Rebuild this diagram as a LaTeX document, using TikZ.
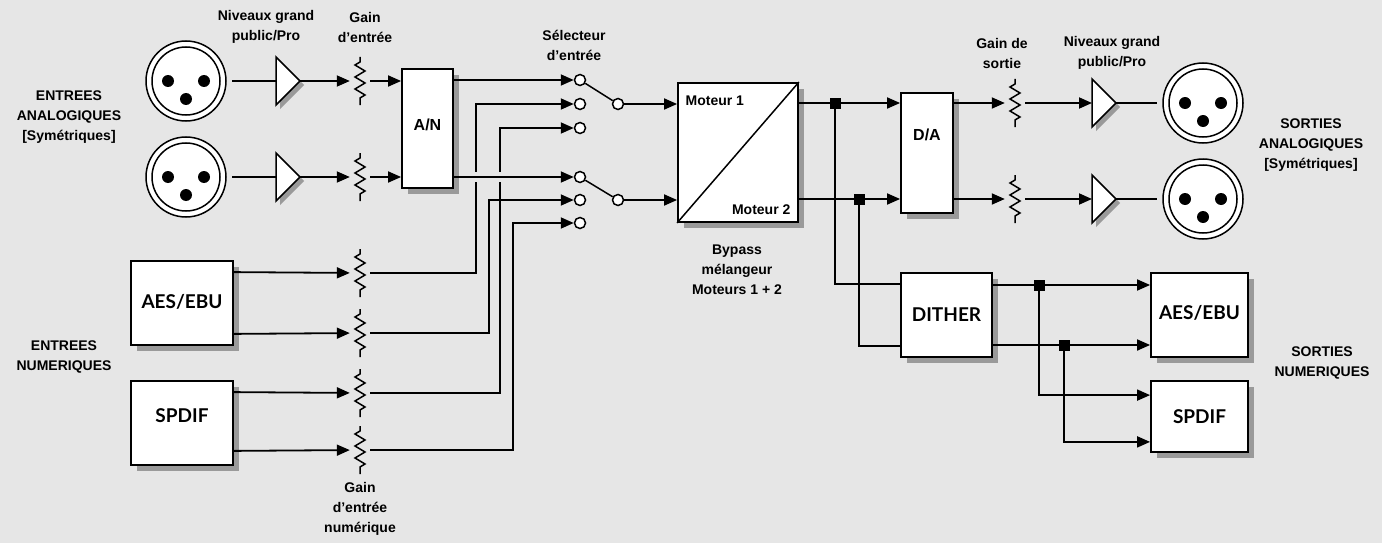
\documentclass[tikz,border=0pt]{standalone}
\usepackage{fontspec}
\setmainfont{Liberation Sans}
\newfontfamily\blockfont{Lato}
\usetikzlibrary{arrows.meta,positioning,shadows}
\definecolor{bggray}{HTML}{E6E6E6}
\definecolor{shadowgray}{HTML}{9A9A9A}

\begin{document}
\begin{tikzpicture}[x=1pt,y=-1pt,
				wire/.style={line width=1.8pt},
				sig/.style={wire,-{Triangle[length=13pt,width=11pt]}},
				blk/.style={rectangle, draw, line width=1.8pt, fill=white, inner sep=0pt,
					drop shadow={shadow xshift=6pt,shadow yshift=-6pt,fill=shadowgray,opacity=1}},
				lbl/.style={font=\bfseries\fontsize{14}{20}\selectfont, align=center},
				conv/.style={font=\bfseries\fontsize{16}{20}\selectfont},
				blocktxt/.style={font=\blockfont\bfseries\fontsize{19}{22}\selectfont},
				contact/.style={circle, draw, line width=1.5pt, fill=white, minimum size=11pt, inner sep=0pt},
				junction/.style={rectangle, fill=black, minimum size=11pt, inner sep=0pt},
				res/.style={inner sep=0pt, minimum width=20pt, minimum height=48pt},
				zz/.pic={\draw[line width=1.5pt] (0,-24)--(0,-19)--(-5,-16)--(5,-10)--(-5,-4)--(5,2)--(-5,8)--(5,14)--(0,17)--(0,24);},
				amp/.pic={\fill[shadowgray] (-8,-20)--(16,4)--(-8,28)--cycle;
					\draw[line width=1.5pt,fill=white] (-12,-24)--(12,0)--(-12,24)--cycle;
					\coordinate (-in) at (-12,0); \coordinate (-out) at (12,0);},
				xlr/.pic={\draw[line width=1.5pt,fill=white] (0,0) circle (40pt);
					\draw[line width=1.5pt] (0,0) circle (34pt);
					\fill (-18,0) circle (6pt) (18,0) circle (6pt) (0,18) circle (6pt);
					\coordinate (-w) at (-46,0); \coordinate (-e) at (46,0);},
				]
				\fill[bggray] (0,0) rectangle (1382,543);
				\useasboundingbox (0,0) rectangle (1382,543);
				
				%Inputs
				\pic (xi1) at (186,81) {xlr};
				\pic (xi2) at (186,177) {xlr};
				\pic (ai1) at (288,81) {amp};
				\pic (ai2) at (288,177) {amp};
				\foreach \n/\y in {ri1/81,ri2/177,rd1/273,rd2/333,rd3/393,rd4/450}{
					\node[res] (\n) at (360,\y) {};
					\pic at (\n) {zz};
				}
				\node[blk, minimum width=51pt, minimum height=119pt] (an) at (427.5,128.5) {};
				\node[conv] (antxt) at (427.5,125) {A/N};
				\node[blk, minimum width=102pt, minimum height=84pt] (ain) at (182,303) {};
				\node[blocktxt] (aintxt) at (182,302) {AES/EBU};
				\node[blk, minimum width=102pt, minimum height=84pt] (sin) at (182,423) {};
				\node[blocktxt] (sintxt) at (182,416) {SPDIF};
				
				%Selector
				\foreach \n/\y in {s1a/80,s1b/104,s1c/128,s2a/177,s2b/200,s2c/223}{
					\node[contact] (\n) at (580,\y) {};
				}
				\node[contact] (p1) at (618,104) {};
				\node[contact] (p2) at (618,200) {};
				
				%Engines
				\node[blk, minimum width=120pt, minimum height=139pt] (mo) at (738,152.5) {};
				\draw[line width=1.5pt] (mo.south west) -- (mo.north east);
				\node[conv, anchor=north west, font=\bfseries\fontsize{14}{16}\selectfont] (m1) at ([shift={(5pt,-10pt)}]mo.north west) {Moteur 1};
				\node[conv, anchor=south east, font=\bfseries\fontsize{14}{16}\selectfont] (m2) at ([shift={(-5pt,5pt)}]mo.south east) {Moteur 2};
				
				%Outputs
				\node[blk, minimum width=52pt, minimum height=120pt] (da) at (927,153) {};
				\node[conv] (datxt) at (927,135) {D/A};
				\node[blk, minimum width=91pt, minimum height=84pt] (dith) at (946.5,315) {};
				\node[blocktxt] (dithtxt) at (946.5,315) {DITHER};
				\node[blk, minimum width=97pt, minimum height=84pt] (aout) at (1199.5,315) {};
				\node[blocktxt] (aouttxt) at (1199.5,313) {AES/EBU};
				\node[blk, minimum width=97pt, minimum height=71pt] (sout) at (1199.5,416.5) {};
				\node[blocktxt] (souttxt) at (1199.5,417) {SPDIF};
				\foreach \n/\y in {ro1/103,ro2/199}{
					\node[res] (\n) at (1015,\y) {};
					\pic at (\n) {zz};
				}
				\pic (ao1) at (1104,103) {amp};
				\pic (ao2) at (1104,199) {amp};
				\pic (xo1) at (1203,103) {xlr};
				\pic (xo2) at (1203,199) {xlr};
				
				%Lines
				\draw[wire] (xi1-e) -- (ai1-in);
				\draw[wire] (xi2-e) -- (ai2-in);
				\draw[sig] (ai1-out) -- (ri1);
				\draw[sig] (ai2-out) -- (ri2);
				\draw[sig] (ri1) -- (an.west |- ri1);
				\draw[sig] (ri2) -- (an.west |- ri2);
				\draw[sig] ([yshift=-12pt]ain.north east) -- (rd1);
				\draw[sig] ([yshift=12pt]ain.south east) -- (rd2);
				\draw[sig] ([yshift=-12pt]sin.north east) -- (rd3);
				\draw[sig] ([yshift=15pt]sin.south east) -- (rd4);
				\draw[sig] (rd1) -- ++(116,0) |- (s1b);
				\draw[sig] (rd2) -- ++(129,0) |- (s2b);
				\draw[sig] (rd3) -- ++(140,0) |- (s1c);
				\draw[sig] (rd4) -- ++(153,0) |- (s2c);
				\draw[sig] (an.east |- s1a) -- (s1a);
				\draw[bggray, line width=10pt] ([xshift=20pt]an.east |- s2a) -- ([xshift=-30pt]s2a.west);
				\draw[sig] (an.east |- s2a) -- (s2a);
				\draw[line width=1.5pt] (s1a) -- (p1);
				\draw[line width=1.5pt] (s2a) -- (p2);
				\draw[sig] (p1) -- (mo.west |- p1);
				\draw[sig] (p2) -- (mo.west |- p2);
				
				\node[junction] (j1) at (835,103) {};
				\node[junction] (j2) at (859,199) {};
				\draw[sig] (mo.east |- j1) -- (da.west |- j1);
				\draw[sig] (mo.east |- j2) -- (da.west |- j2);
				\draw[wire] (j1) |- ([yshift=-12pt]dith.north west);
				\draw[wire] (j2) |- ([yshift=12pt]dith.south west);
				\node[junction] at (j1) {};
				\node[junction] at (j2) {};
				\draw[sig] (da.east |- ro1) -- (ro1);
				\draw[sig] (da.east |- ro2) -- (ro2);
				\draw[sig] (ro1) -- (ao1-in);
				\draw[sig] (ro2) -- (ao2-in);
				\draw[wire] (ao1-out) -- (xo1-w);
				\draw[wire] (ao2-out) -- (xo2-w);
				
				\node[junction] (j3) at (1039,285) {};
				\node[junction] (j4) at (1064,345) {};
				\draw[sig] (dith.east |- j3) -- (aout.west |- j3);
				\draw[sig] (dith.east |- j4) -- (aout.west |- j4);
				\draw[sig] (j3) |- ([yshift=-15pt]sout.north west);
				\draw[sig] (j4) |- ([yshift=11pt]sout.south west);
				\node[junction] at (j3) {};
				\node[junction] at (j4) {};
				
				%Labels
				\node[lbl] (lnivin) at (266,27) {Niveaux grand\\public/Pro};
				\node[lbl] (lgainin) at (365,27) {Gain\\d'entrée};
				\node[lbl] (lsel) at (574,45) {Sélecteur\\d'entrée};
				\node[lbl] (lanin) at (69,117) {ENTREES\\ANALOGIQUES\\{[Symétriques]}};
				\node[lbl] (lnumin) at (64,357) {ENTREES\\NUMERIQUES};
				\node[lbl] (lgainnum) at (360,509) {Gain\\d'entrée\\numérique};
				\node[lbl] (lbyp) at (737,270) {Bypass\\mélangeur\\Moteurs 1 + 2};
				\node[lbl] (lgainout) at (1002,53) {Gain de\\sortie};
				\node[lbl] (lnivout) at (1112,53) {Niveaux grand\\public/Pro};
				\node[lbl] (lanout) at (1311,145) {SORTIES\\ANALOGIQUES\\{[Symétriques]}};
				\node[lbl] (lnumout) at (1322,363) {SORTIES\\NUMERIQUES};
			\end{tikzpicture}
\end{document}
